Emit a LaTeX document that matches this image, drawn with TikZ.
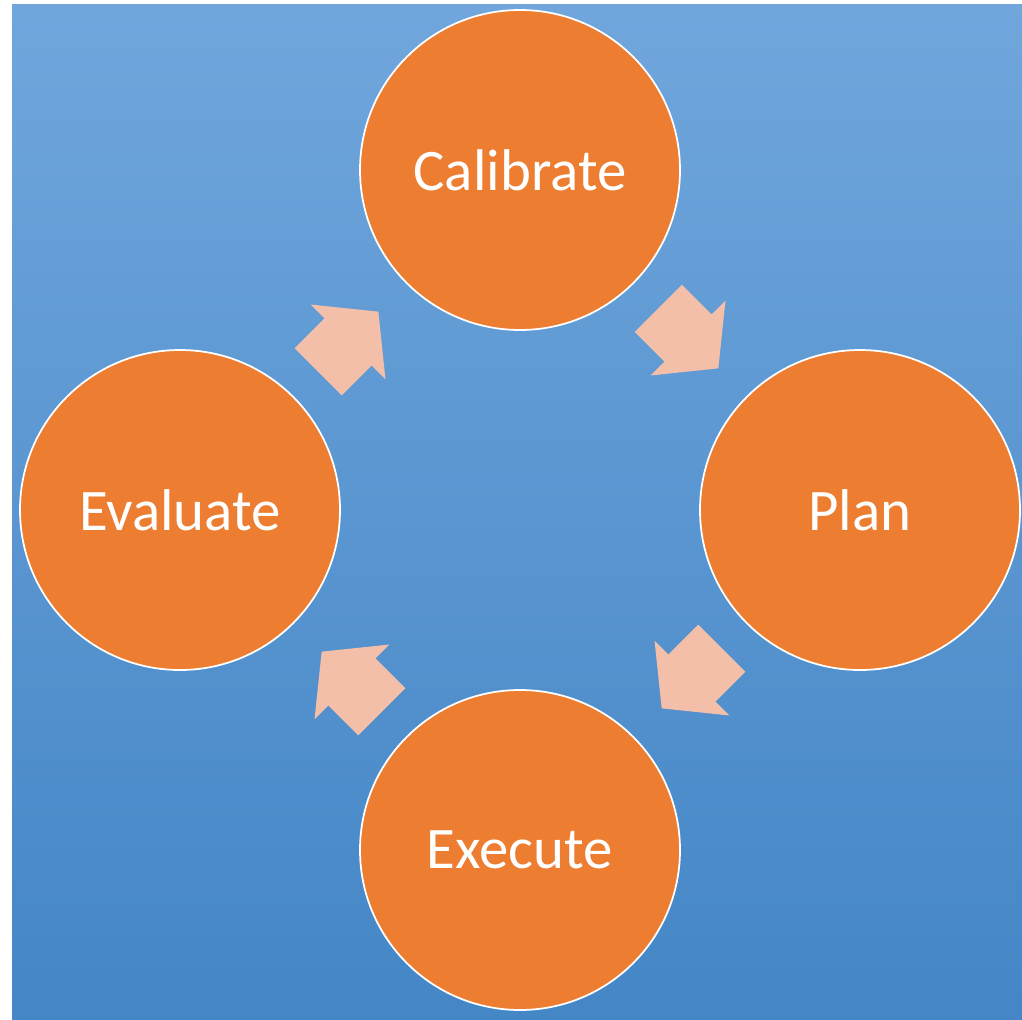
\documentclass[tikz,border=0pt]{standalone}
\usepackage{fontspec}
\setmainfont{Carlito}
\usetikzlibrary{shapes.arrows}
\definecolor{stageOrange}{RGB}{237,125,49}
\definecolor{flowPink}{RGB}{243,191,169}
\definecolor{bgTop}{RGB}{112,166,220}
\definecolor{bgBottom}{RGB}{68,134,198}
\tikzset{
  stage/.style={shape=circle, fill=stageOrange, draw=white, line width=0.35mm,
    minimum size=64mm, inner sep=0pt, text=white, font=\fontsize{33.5}{40}\selectfont},
  flow/.style={single arrow, fill=flowPink, draw=none, sloped, allow upside down,
    pos=0.4, inner xsep=0pt, inner ysep=6.6mm,
    minimum height=17mm, minimum width=21mm,
    single arrow head extend=3.9mm, single arrow tip angle=102}
}
\begin{document}
\begin{tikzpicture}[x=0.2mm, y=-0.2mm]
\useasboundingbox (0,0) rectangle (1022,1019);
% background
\shade[top color=bgTop, bottom color=bgBottom] (12,5) rectangle (1022,1019);
% stages
\node[stage] (cal) at (520,170) {Calibrate};
\node[stage] (plan) at (860,510) {Plan};
\node[stage] (exec) at (520,850) {Execute};
\node[stage] (eval) at (180,510) {Evaluate};
% cycle arrows
\path (cal) -- node[flow] {} (plan);
\path (plan) -- node[flow] {} (exec);
\path (exec) -- node[flow] {} (eval);
\path (eval) -- node[flow] {} (cal);
\end{tikzpicture}
\end{document}
